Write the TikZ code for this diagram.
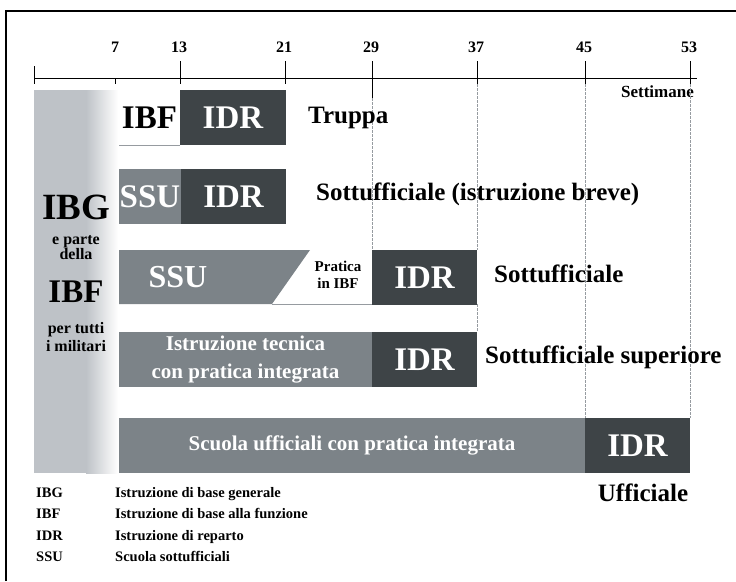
\documentclass[tikz,border=0pt]{standalone}
\usepackage{fontspec}
\setmainfont{Liberation Serif}
\definecolor{darkbox}{RGB}{62,68,71}
\definecolor{midbox}{RGB}{124,131,136}
\definecolor{lightbox}{RGB}{190,194,199}
\definecolor{guide}{RGB}{150,155,160}
\tikzset{
  box/.style={inner sep=0pt, outer sep=0pt, anchor=north west, minimum height=55pt, font=\bfseries\fontsize{33}{33}\selectfont},
  idrbox/.style={box, fill=darkbox, text=white},
  ssubox/.style={box, fill=midbox, text=white},
  whitebox/.style={box, fill=white, text=black},
  rowlabel/.style={inner sep=0pt, anchor=west, font=\bfseries\fontsize{25}{25}\selectfont},
  ticklabel/.style={inner sep=0pt, font=\bfseries\fontsize{16}{16}\selectfont},
  sidetext/.style={inner sep=0pt, anchor=base, font=\bfseries\fontsize{16}{16}\selectfont},
  legend/.style={inner sep=0pt, anchor=base west, font=\bfseries\fontsize{14.5}{14.5}\selectfont},
  guideline/.style={guide, line width=0.6pt, dash pattern=on 3pt off 1pt},
  baseline/.style={guide, line width=1pt},
}
\begin{document}
\begin{tikzpicture}[x=1pt,y=1pt]
\useasboundingbox (0,0) rectangle (736,-581);
% frame
\draw[line width=1.4pt] (6,-581) -- (6,-11) -- (737,-11);
% axis
\coordinate (axL) at (34,-78);
\coordinate (axR) at (697,-78);
\draw[line width=0.8pt] (axL) -- (axR);
\foreach \x/\l in {180/13,285/21,372/29,477/37,585/45,690/53}{
  \draw[line width=0.8pt] (\x,-61) -- (\x,-84);
  \node[ticklabel] (t\l) at (\x-1,-47) {\l};
}
\draw[line width=0.8pt] (34,-66) -- (34,-84);
\draw[line width=0.8pt] (115,-78) -- (115,-84);
\node[ticklabel] (t7) at (115,-47) {7};
\draw[line width=0.8pt] (372,-84) -- (372,-98);
\node[inner sep=0pt, anchor=east, font=\bfseries\fontsize{17}{17}\selectfont] (sett) at (694,-92) {Settimane};
% guide lines
\draw[guideline] (372,-98) -- (372,-250);
\draw[guideline] (477,-84) -- (477,-250);
\draw[guideline] (477,-304) -- (477,-332);
\draw[guideline] (585,-84) -- (585,-418);
\draw[guideline] (690,-84) -- (690,-418);
% IBG column
\fill[lightbox] (34,-90) rectangle (86,-473);
\shade[left color=lightbox, right color=white] (86,-90) rectangle (118,-473);
\node[inner sep=0pt, anchor=base, font=\bfseries\fontsize{37}{37}\selectfont] (ibg) at (76,-219) {IBG};
\node[sidetext] (ep) at (76,-244) {e parte};
\node[sidetext] (dl) at (76,-259) {della};
\node[inner sep=0pt, anchor=base, font=\bfseries\fontsize{33}{33}\selectfont] (ibf) at (76,-302) {IBF};
\node[sidetext] (pt) at (76,-333) {per tutti};
\node[sidetext] (im) at (76,-351) {i militari};
% Row 1
\node[whitebox, minimum width=61pt] (r1a) at (119,-90) {IBF};
\draw[baseline] (r1a.south west) -- (r1a.south east);
\node[idrbox, minimum width=106pt] (r1b) at (180,-90) {IDR};
\node[rowlabel] (r1l) at (308,-118) {Truppa};
% Row 2
\node[ssubox, minimum width=62pt] (r2a) at (119,-169) {SSU};
\node[idrbox, minimum width=105pt] (r2b) at (181,-169) {IDR};
\node[rowlabel] (r2l) at (316,-194) {Sottufficiale (istruzione breve)};
% Row 3
\fill[midbox] (119,-250) -- (310,-250) -- (272,-304) -- (119,-304) -- cycle;
\draw[baseline] (272,-304) -- (372,-304);
\node[inner sep=0pt, text=white, font=\bfseries\fontsize{32}{32}\selectfont] (r3a) at (178,-277) {SSU};
\node[inner sep=0pt, align=center, font=\bfseries\fontsize{15}{17}\selectfont] (r3p) at (338,-275) {Pratica\\in IBF};
\node[idrbox, minimum width=105pt] (r3b) at (372,-250) {IDR};
\node[rowlabel] (r3l) at (494,-274) {Sottufficiale};
% Row 4
\node[ssubox, minimum width=253pt, align=center, font=\bfseries\fontsize{21}{28}\selectfont] (r4a) at (119,-332) {Istruzione tecnica\\con pratica integrata};
\node[idrbox, minimum width=105pt] (r4b) at (372,-332) {IDR};
\node[rowlabel] (r4l) at (485,-357) {Sottufficiale superiore};
% Row 5
\node[ssubox, minimum width=466pt, font=\bfseries\fontsize{21}{21}\selectfont] (r5a) at (119,-418) {Scuola ufficiali con pratica integrata};
\node[idrbox, minimum width=105pt] (r5b) at (585,-418) {IDR};
\node[inner sep=0pt, font=\bfseries\fontsize{25}{25}\selectfont] (r5l) at (643,-493) {Ufficiale};
% legend
\node[legend] (k1) at (36,-497) {IBG};
\node[legend] (d1) at (115,-497) {Istruzione di base generale};
\node[legend] (k2) at (36,-518) {IBF};
\node[legend] (d2) at (115,-518) {Istruzione di base alla funzione};
\node[legend] (k3) at (36,-540) {IDR};
\node[legend] (d3) at (115,-540) {Istruzione di reparto};
\node[legend] (k4) at (36,-561) {SSU};
\node[legend] (d4) at (115,-561) {Scuola sottufficiali};
\end{tikzpicture}
\end{document}
